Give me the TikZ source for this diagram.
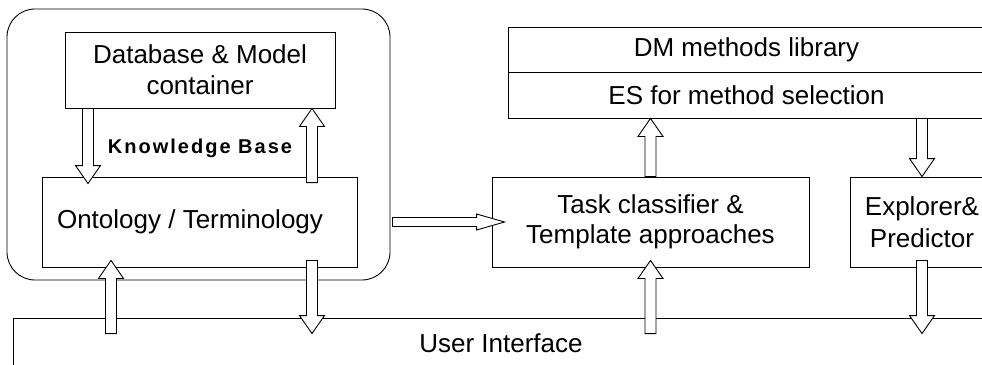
\documentclass[tikz,border=0pt]{standalone}
\usepackage{fontspec}
\setmainfont{Liberation Sans}
\usetikzlibrary{calc}

\tikzstyle{box} = [rectangle, draw=black, line width=0.9pt, align=center, inner sep=0pt, font=\fontsize{26}{30}\selectfont]
\tikzstyle{roundbox} = [rectangle, rounded corners=28pt, draw=black, line width=0.9pt]
\tikzset{
  fat shaft/.store in=\fatshaft, fat head/.store in=\fathead, fat len/.store in=\fatlen,
  fat shaft=5.5pt, fat head=12.5pt, fat len=18pt}
% hollow block arrow, drawn as an outline from start to tip
\tikzstyle{fat} = [draw=black, fill=white, line width=0.9pt, to path={
  ($(\tikztostart)!\fatshaft!90:(\tikztotarget)$)
  -- ($(\tikztotarget)!\fatlen!(\tikztostart)!\fatshaft!90:(\tikztotarget)$)
  -- ($(\tikztotarget)!\fatlen!(\tikztostart)!\fathead!90:(\tikztotarget)$)
  -- (\tikztotarget)
  -- ($(\tikztotarget)!\fatlen!(\tikztostart)!\fathead!-90:(\tikztotarget)$)
  -- ($(\tikztotarget)!\fatlen!(\tikztostart)!\fatshaft!-90:(\tikztotarget)$)
  -- ($(\tikztostart)!\fatshaft!-90:(\tikztotarget)$) -- cycle}]

\begin{document}
\begin{tikzpicture}[x=1pt, y=1pt, node distance=152pt]
  \clip (-200,70) rectangle (782,-294);

  \node (db) [box, minimum width=270pt, minimum height=76pt] {\raisebox{-3pt}{Database \& Model}\\[4pt]container};
  \node (onto) [box, below of=db, minimum width=315pt, minimum height=90pt] {Ontology / Terminology\hspace*{20pt}};
  \node (kbox) [roundbox, below of=db, xshift=-1.5pt, yshift=77.5pt, minimum width=383pt, minimum height=271pt] {};
  \node (kblabel) [below of=db, yshift=74pt, font=\bfseries\fontsize{20}{24}\selectfont\addfontfeature{LetterSpace=10}] {Knowledge Base};
  \node (task) [box, right of=onto, xshift=298.5pt, minimum width=317pt, minimum height=90pt] {Task classifier \&\\Template approaches};
  \node (expl) [box, right of=task, xshift=119.5pt, minimum width=144pt, minimum height=90pt] {Explorer\&\\[2pt]Predictor};
  \node (es) [box, above of=task, xshift=96pt, yshift=-25pt, minimum width=476pt, minimum height=46pt] {ES for method selection};
  \node (lib) [box, node distance=45.5pt, above of=es, minimum width=476pt, minimum height=45pt] {DM methods library};
  \node (ui) [box, below of=onto, xshift=301pt, yshift=31pt, minimum width=976pt, minimum height=50pt] {User Interface};

  \coordinate (kb-out) at ($(kbox.east |- onto.center)+(2pt,0)$);
  \coordinate (ui-a) at ($(ui.north -| onto.south)+(-89pt,-16pt)$);
  \coordinate (ui-b) at ($(ui.north -| onto.south)+(112pt,-16pt)$);
  \coordinate (ui-c) at ($(ui.north -| task.south)+(0,-16pt)$);
  \coordinate (ui-d) at ($(ui.north -| expl.south)+(0,-16pt)$);

  \draw [fat] ([xshift=-112pt]db.south) to ([xshift=-112pt,yshift=-7pt]onto.north);
  \draw [fat] ([xshift=112pt,yshift=-6pt]onto.north) to ([xshift=112pt]db.south);
  \draw [fat] (ui-a) to ([xshift=-89pt,yshift=7pt]onto.south);
  \draw [fat] ([xshift=112pt,yshift=7pt]onto.south) to (ui-b);
  \draw [fat, fat shaft=4.5pt, fat head=8pt, fat len=28pt] (kb-out) to ([xshift=13pt]task.west);
  \draw [fat] (task.north) to (task.north |- es.south);
  \draw [fat] (ui-c) to ([yshift=7pt]task.south);
  \draw [fat] (es.south -| expl.north) to (expl.north);
  \draw [fat] ([yshift=7pt]expl.south) to (ui-d);
\end{tikzpicture}
\end{document}
